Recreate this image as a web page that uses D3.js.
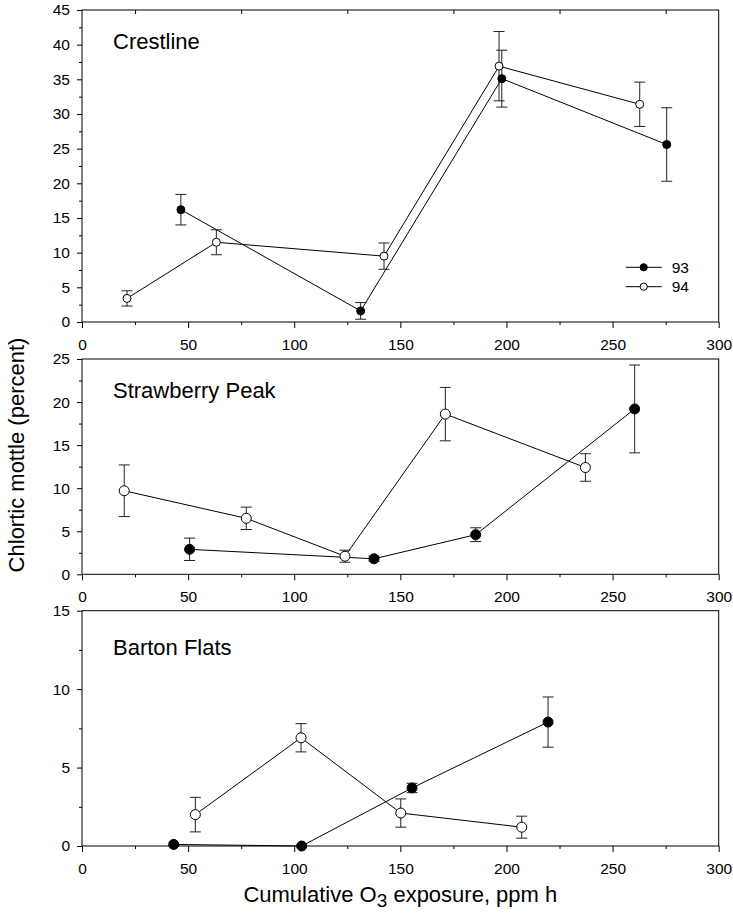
<!DOCTYPE html>
<html>
<head>
<meta charset="utf-8">
<script src="https://cdn.jsdelivr.net/npm/d3@7"></script>
<style>
  body { margin: 0; background: #fff; }
  svg text { font-family: Arial, "Liberation Sans", sans-serif; fill: #000; }
</style>
</head>
<body>
<div class="svg-container"></div>
<script>
// data (x = cumulative O3 exposure, y = % chlorotic mottle, e = error)
const xTickValues = [0, 50, 100, 150, 200, 250, 300];
const seriesNames = ["93", "94"];

const crestX93 = [46.6, 131.3, 197.8, 275.5];
const crestY93 = [16.2, 1.6, 35.1, 25.6];
const crestE93 = [2.2, 1.2, 4.1, 5.3];
const crestX94 = [21.2, 63.3, 142.3, 196.5, 262.8];
const crestY94 = [3.4, 11.5, 9.5, 36.9, 31.4];
const crestE94 = [1.1, 1.8, 1.9, 5.0, 3.2];

const strawX93 = [50.7, 137.6, 185.5, 260.4];
const strawY93 = [2.9, 1.8, 4.6, 19.2];
const strawE93 = [1.3, 0.3, 0.8, 5.1];
const strawX94 = [19.9, 77.4, 123.9, 171.2, 237.2];
const strawY94 = [9.7, 6.5, 2.1, 18.6, 12.4];
const strawE94 = [3.0, 1.3, 0.7, 3.1, 1.6];

const bartonX93 = [43.2, 103.5, 155.5, 219.6];
const bartonY93 = [0.1, 0, 3.7, 7.9];
const bartonE93 = [0, 0, 0.3, 1.6];
const bartonX94 = [53.4, 103.2, 150.2, 207.2];
const bartonY94 = [2.0, 6.9, 2.1, 1.2];
const bartonE94 = [1.1, 0.9, 0.9, 0.7];

const panelNames = ["Crestline", "Strawberry Peak", "Barton Flats"];
const panelYMax = [45, 25, 15];

function zipSeries(xs, ys, es) {
  return xs.map((x, i) => ({ x: x, y: ys[i], e: es[i] }));
}

const panels = [
  { name: panelNames[0], ymax: panelYMax[0], s93: zipSeries(crestX93, crestY93, crestE93), s94: zipSeries(crestX94, crestY94, crestE94) },
  { name: panelNames[1], ymax: panelYMax[1], s93: zipSeries(strawX93, strawY93, strawE93), s94: zipSeries(strawX94, strawY94, strawE94) },
  { name: panelNames[2], ymax: panelYMax[2], s93: zipSeries(bartonX93, bartonY93, bartonE93), s94: zipSeries(bartonX94, bartonY94, bartonE94) }
];

// layout
const width = 733, height = 920;
const left = 82, right = 718.7;
const layout = [
  { top: 10, bottom: 322, r: 4, labelDy: 39 },
  { top: 359, bottom: 574.3, r: 5, labelDy: 38.5 },
  { top: 610.7, bottom: 846, r: 5, labelDy: 44.3 }
];

const svg = d3.select(".svg-container")
  .append("svg")
  .attr("width", width)
  .attr("height", height);

const xScale = d3.scaleLinear().domain([0, 300]).range([left, right]);

panels.forEach((p, k) => {
  const L = layout[k];
  const yScale = d3.scaleLinear().domain([0, p.ymax]).range([L.bottom, L.top]);
  const g = svg.append("g");

  // frame
  g.append("rect")
    .attr("x", left).attr("y", L.top)
    .attr("width", right - left).attr("height", L.bottom - L.top)
    .attr("fill", "none").attr("stroke", "#000").attr("stroke-width", 1);

  // minor ticks
  const xMinor = d3.range(25, 300, 50);
  g.append("g")
    .attr("transform", "translate(0," + L.bottom + ")")
    .call(d3.axisBottom(xScale).tickValues(xMinor).tickSize(3).tickFormat(""))
    .call(a => a.select(".domain").remove());

  const yMinor = d3.range(2.5, p.ymax, 5);
  g.append("g")
    .attr("transform", "translate(" + left + ",0)")
    .call(d3.axisLeft(yScale).tickValues(yMinor).tickSize(3).tickFormat(""))
    .call(a => a.select(".domain").remove());

  if (k === 0) {
    // small inward ticks along the top edge of the first panel
    g.append("g")
      .attr("transform", "translate(0," + L.top + ")")
      .call(d3.axisBottom(xScale).tickValues(xMinor).tickSize(4).tickFormat(""))
      .call(a => a.select(".domain").remove());
  }

  // major axes
  g.append("g")
    .attr("transform", "translate(0," + L.bottom + ")")
    .call(d3.axisBottom(xScale).tickValues(xTickValues).tickSize(6).tickPadding(11).tickFormat(d3.format("d")))
    .call(a => a.select(".domain").remove())
    .selectAll("text").style("font-size", "15.5px").attr("font-family", null);

  g.append("g")
    .attr("transform", "translate(" + left + ",0)")
    .call(d3.axisLeft(yScale).tickValues(d3.range(0, p.ymax + 1, 5)).tickSize(5).tickPadding(7))
    .call(a => a.select(".domain").remove())
    .selectAll("text").style("font-size", "15.5px").attr("font-family", null);

  g.selectAll(".tick line").attr("stroke", "#000");

  // panel label
  g.append("text")
    .attr("x", 113)
    .attr("y", L.top + L.labelDy)
    .style("font-size", "22px")
    .text(p.name);

  const line = d3.line().x(d => xScale(d.x)).y(d => yScale(d.y));

  [p.s93, p.s94].forEach((s, j) => {
    // error bars
    const eb = g.selectAll(".eb" + j)
      .data(s.filter(d => d.e > 0))
      .enter().append("g");
    eb.append("line")
      .attr("x1", d => xScale(d.x)).attr("x2", d => xScale(d.x))
      .attr("y1", d => yScale(d.y - d.e)).attr("y2", d => yScale(d.y + d.e))
      .attr("stroke", "#222").attr("stroke-width", 1);
    [-1, 1].forEach(sign => {
      eb.append("line")
        .attr("x1", d => xScale(d.x) - 5.5).attr("x2", d => xScale(d.x) + 5.5)
        .attr("y1", d => yScale(d.y + sign * d.e)).attr("y2", d => yScale(d.y + sign * d.e))
        .attr("stroke", "#222").attr("stroke-width", 1);
    });

    g.append("path")
      .datum(s)
      .attr("d", line)
      .attr("fill", "none")
      .attr("stroke", "#000")
      .attr("stroke-width", 1);
  });

  [p.s93, p.s94].forEach((s, j) => {
    g.selectAll(".dot" + j)
      .data(s)
      .enter().append("circle")
      .attr("cx", d => xScale(d.x))
      .attr("cy", d => yScale(d.y))
      .attr("r", L.r)
      .attr("fill", j === 0 ? "#000" : "#fff")
      .attr("stroke", "#000")
      .attr("stroke-width", 1);
  });
});

// legend (first panel)
const legend = svg.append("g").attr("id", "legend");
seriesNames.forEach((name, i) => {
  const y = 267.3 + i * 19.4;
  legend.append("line")
    .attr("x1", 625.7).attr("x2", 661.7)
    .attr("y1", y).attr("y2", y)
    .attr("stroke", "#000");
  legend.append("circle")
    .attr("cx", 643.7).attr("cy", y).attr("r", 3.6)
    .attr("fill", i === 0 ? "#000" : "#fff")
    .attr("stroke", "#000");
  legend.append("text")
    .attr("x", 671.7).attr("y", y)
    .attr("dy", "0.36em")
    .style("font-size", "15.5px")
    .text(name);
});

// axis titles
svg.append("text")
  .attr("transform", "translate(24,455) rotate(-90)")
  .attr("text-anchor", "middle")
  .style("font-size", "22px")
  .text("Chlortic mottle (percent)");

const xt = svg.append("text")
  .attr("x", (left + right) / 2)
  .attr("y", 902)
  .attr("text-anchor", "middle")
  .style("font-size", "22px");
xt.append("tspan").text("Cumulative O");
xt.append("tspan").attr("dy", 5).style("font-size", "19px").text("3");
xt.append("tspan").attr("dy", -5).text(" exposure, ppm h");
</script>
</body>
</html>
